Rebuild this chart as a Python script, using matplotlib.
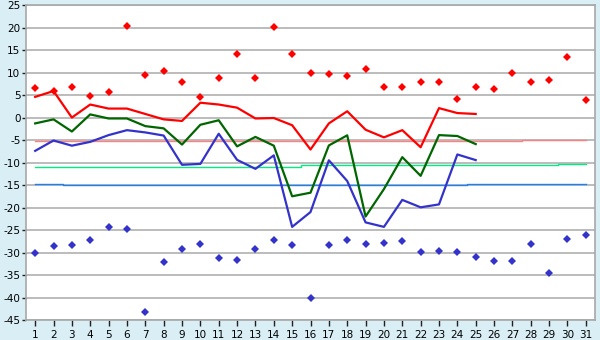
import numpy as np
import matplotlib
matplotlib.use('Agg')
import matplotlib.pyplot as plt

plt.rcParams['axes.unicode_minus'] = False

days = np.arange(1, 32)

# record highs / lows per day (diamonds)
rec_max = [6.5, 6.0, 6.9, 4.9, 5.6, 20.3, 9.4, 10.3, 7.8, 4.5, 8.7, 14.1, 8.7, 20.1, 14.1, 10.0,
           9.6, 9.3, 10.7, 6.9, 6.9, 8.0, 7.8, 4.2, 6.9, 6.25, 10.0, 8.0, 8.25, 13.4, 4.0]
rec_min = [-30.1, -28.6, -28.3, -27.2, -24.3, -24.8, -43.3, -32.1, -29.2, -28.1, -31.25, -31.7,
           -29.2, -27.2, -28.3, -40.1, -28.3, -27.2, -28.1, -27.9, -27.5, -29.9, -29.7, -29.9,
           -31.0, -31.9, -31.9, -28.1, -34.6, -27.0, -26.1]

# observed values, days 1..25
obs_days = np.arange(1, 26)
t_max = [4.6, 5.9, 0.0, 2.9, 2.0, 2.0, 0.8, -0.4, -0.75, 3.3, 2.9, 2.2, -0.2, -0.1, -1.7, -7.1,
         -1.3, 1.4, -2.7, -4.4, -2.8, -6.6, 2.1, 1.0, 0.8]
t_mean = [-1.3, -0.4, -3.1, 0.7, -0.2, -0.2, -1.9, -2.4, -6.0, -1.6, -0.6, -6.4, -4.3, -6.25,
          -17.5, -16.7, -6.2, -3.95, -22.0, -15.9, -8.8, -12.95, -3.9, -4.1, -5.9]
t_min = [-7.4, -5.1, -6.25, -5.4, -3.9, -2.8, -3.3, -4.0, -10.5, -10.3, -3.6, -9.4, -11.4, -8.4,
         -24.3, -21.0, -9.5, -14.1, -23.3, -24.3, -18.3, -19.95, -19.3, -8.2, -9.45]

# long-term normals per day
norm_max = [-5.3] * 27 + [-4.9] * 4
norm_mean = [-10.9] * 15 + [-10.6] * 9 + [-10.45] * 5 + [-10.3] * 2
norm_min = [-14.7] * 2 + [-14.95] * 22 + [-14.7] * 7

bg = '#d9eef5'
fig = plt.figure(figsize=(6, 3.4), dpi=100, facecolor=bg)
ax = fig.add_axes([0.0433, 0.0588, 0.9484, 0.9262])
ax.set_facecolor('white')

for y in range(-45, 26, 5):
    ax.axhline(y, color='#b0b0b0', lw=1.2, zorder=1)

ax.step(days, norm_max, where='mid', color='#ff8080', lw=1.0, zorder=2)
ax.step(days, norm_mean, where='mid', color='#00ee80', lw=1.0, zorder=2)
ax.step(days, norm_min, where='mid', color='#1e80f0', lw=1.0, zorder=2)

ax.plot(obs_days, t_max, color='#ff0000', lw=1.6, zorder=3)
ax.plot(obs_days, t_mean, color='#006600', lw=1.6, zorder=3)
ax.plot(obs_days, t_min, color='#3333cc', lw=1.6, zorder=3)

ax.plot(days, rec_max, 'D', color='#ff0000', ms=3.6, mew=0, zorder=4)
ax.plot(days, rec_min, 'D', color='#3333cc', ms=3.6, mew=0, zorder=4)

ax.set_xlim(0.5, 31.5)
ax.set_ylim(-45, 25)
ax.set_xticks(days)
ax.set_yticks(range(-45, 26, 5))
ax.tick_params(axis='both', labelsize=7.5, width=1, color='#202020')
ax.tick_params(axis='x', length=4, pad=3)
ax.tick_params(axis='y', length=3, pad=1)
for s in ax.spines.values():
    s.set_color('#a8a8a8')
    s.set_linewidth(1.2)

fig.savefig('out.png', dpi=100, facecolor=bg)
